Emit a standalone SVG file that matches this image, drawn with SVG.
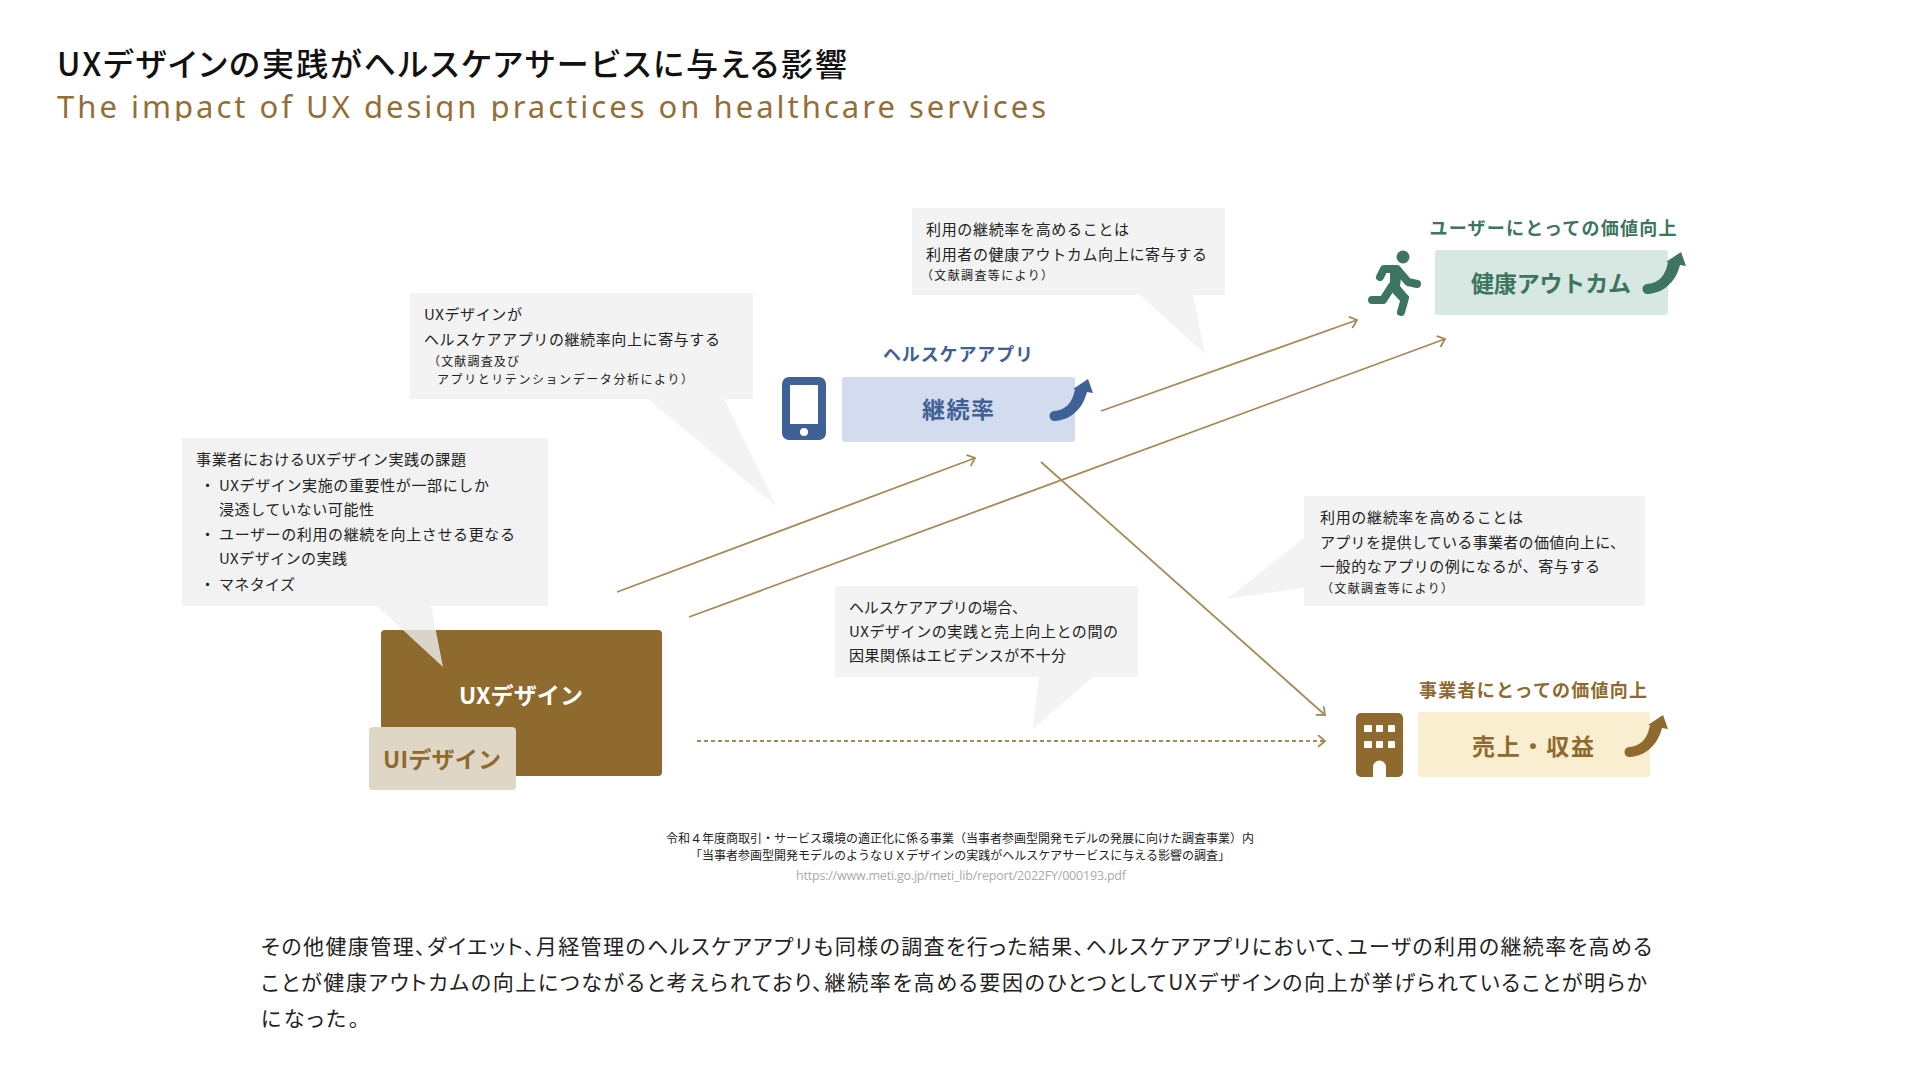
<svg xmlns="http://www.w3.org/2000/svg" width="1920" height="1080" viewBox="0 0 1920 1080">
<style>
text{font-family:"Noto Sans CJK JP","Noto Sans",sans-serif;fill:#222}
.b{font-size:15px}
.s{font-size:12px}
.lab{font-size:18px;font-weight:700}
.big{font-size:23px;font-weight:700}
.blue{fill:#3f6195}.green{fill:#3d7561}.tan{fill:#8e6a2f}
.bub{fill:#f3f3f3}
.m{text-anchor:middle}
.p{font-size:21px;font-feature-settings:"palt"}
.src{font-size:12px;text-anchor:middle}
.ln{fill:none;stroke:#a68a5a;stroke-width:1.800}
</style>
<defs>
<clipPath id="subclip"><rect x="40" y="90" width="1100" height="31"/></clipPath>
<marker id="ah" markerWidth="14" markerHeight="14" refX="10" refY="6" orient="auto" markerUnits="userSpaceOnUse"><path d="M3 0L10 6L3 12" fill="none" stroke="#a68a5a" stroke-width="1.800"/></marker>
<path id="up" d="M-1 -5C9 -6 17 -11 20 -27L18 -27L33 -37L38 -23L32 -24C27 -5 14 4 0 5A5 5 0 0 1 -1 -5Z"/>
</defs>

<g id="title">
<text x="57" y="76" style="font-size:32px;font-weight:500;font-feature-settings:'palt';fill:#111" textLength="790">UXデザインの実践がヘルスケアサービスに与える影響</text>
<text x="57" y="118" clip-path="url(#subclip)" style="font-family:'Noto Sans',sans-serif;font-size:31px;font-weight:400;fill:#936f37" textLength="989">The impact of UX design practices on healthcare services</text>
</g>

<g id="connectors">
<line class="ln" x1="617" y1="592" x2="975" y2="458" marker-end="url(#ah)"/>
<line class="ln" x1="689" y1="617" x2="1445" y2="339" marker-end="url(#ah)"/>
<line class="ln" x1="1101" y1="411" x2="1357" y2="320" marker-end="url(#ah)"/>
<line class="ln" x1="1041" y1="462" x2="1325" y2="715" marker-end="url(#ah)"/>
<line class="ln" x1="697" y1="741" x2="1325" y2="741" stroke-dasharray="4 3" marker-end="url(#ah)"/>
</g>

<g id="node-ux">
<rect x="381" y="630" width="281" height="146" rx="4" fill="#8e6a2f"/>
<text x="521" y="704" class="big m" style="fill:#fff" textLength="124">UXデザイン</text>
<rect x="369" y="727" width="147" height="63" rx="4" fill="#e0d6c5"/>
<text x="442" y="768" class="big m tan" textLength="118">UIデザイン</text>
</g>

<g id="node-app">
<text x="958" y="361" class="lab m blue" textLength="150">ヘルスケアアプリ</text>
<rect x="842" y="377" width="233" height="65" rx="3" fill="#d3dcee"/>
<text x="958" y="418" class="big m blue" textLength="72">継続率</text>
<rect x="782" y="377" width="44" height="63" rx="7" fill="#3f6195"/>
<rect x="790" y="385" width="28" height="39" fill="#fff"/>
<circle cx="804" cy="432" r="4" fill="#fff"/>
<use href="#up" x="1055" y="416" fill="#3f6195"/>
</g>

<g id="node-health">
<text x="1553" y="235" class="lab m green" textLength="247">ユーザーにとっての価値向上</text>
<rect x="1435" y="250" width="233" height="65" rx="3" fill="#d6e8e1"/>
<text x="1551" y="292" class="big m green" textLength="160">健康アウトカム</text>
<circle cx="1403" cy="257" r="6.500" fill="#3d7561"/>
<g fill="none" stroke="#3d7561" stroke-width="8" stroke-linecap="round" stroke-linejoin="round">
<path d="M1380 277L1384 269L1397 269L1408 282L1417 284"/>
<path d="M1405 298L1401 312"/>
<path d="M1372 300L1383 300L1392 286"/>
</g>
<path d="M1390 265L1402 270L1400 286L1409 297L1401 302L1390 290Z" fill="#3d7561"/>
<use href="#up" x="1648" y="289" fill="#3d7561"/>
</g>

<g id="node-revenue">
<text x="1533" y="697" class="lab m tan" textLength="228">事業者にとっての価値向上</text>
<rect x="1418" y="712" width="232" height="65" rx="3" fill="#faeed0"/>
<text x="1533" y="755" class="big m tan" textLength="122">売上・収益</text>
<rect x="1356" y="713" width="47" height="64" rx="5" fill="#8e6a2f"/>
<g fill="#fff">
<rect x="1364" y="725" width="8" height="7" rx="1"/><rect x="1376" y="725" width="7" height="7" rx="1"/><rect x="1388" y="725" width="7" height="7" rx="1"/>
<rect x="1364" y="741" width="8" height="7" rx="1"/><rect x="1376" y="741" width="7" height="7" rx="1"/><rect x="1388" y="741" width="7" height="7" rx="1"/>
<path d="M1373 777V767A6.500 6.500 0 0 1 1386 767V777Z"/>
</g>
<use href="#up" x="1630" y="752" fill="#8e6a2f"/>
</g>

<g id="bubble-issues">
<path d="M182 438H548V606H431L443 667L377 606H182Z" fill="#efefef" fill-opacity=".8"/>
<text x="196" y="465" class="b" textLength="270">事業者におけるUXデザイン実践の課題</text>
<text x="200" y="491" class="b">・</text>
<text x="219" y="491" class="b" textLength="270">UXデザイン実施の重要性が一部にしか</text>
<text x="219" y="515" class="b" textLength="155">浸透していない可能性</text>
<text x="200" y="540" class="b">・</text>
<text x="219" y="540" class="b" textLength="296">ユーザーの利用の継続を向上させる更なる</text>
<text x="219" y="564" class="b" textLength="128">UXデザインの実践</text>
<text x="200" y="590" class="b">・</text>
<text x="219" y="590" class="b" textLength="76">マネタイズ</text>
</g>

<g id="bubble-ux-app">
<path class="bub" d="M410 293H753V399H724L776 506L648 399H410Z"/>
<text x="424" y="320" class="b" textLength="98">UXデザインが</text>
<text x="424" y="345" class="b" textLength="296">ヘルスケアアプリの継続率向上に寄与する</text>
<text x="428" y="366" class="s" textLength="91">（文献調査及び</text>
<text x="437" y="384" class="s" textLength="256">アプリとリテンションデータ分析により）</text>
</g>

<g id="bubble-health">
<path class="bub" d="M912 208H1225V295H1193L1205 354L1140 295H912Z"/>
<text x="926" y="235" class="b" textLength="203">利用の継続率を高めることは</text>
<text x="926" y="260" class="b" textLength="281">利用者の健康アウトカム向上に寄与する</text>
<text x="921" y="280" class="s" textLength="132">（文献調査等により）</text>
</g>

<g id="bubble-value">
<path class="bub" d="M1304 496H1645V606H1304V588L1227 599L1304 538Z"/>
<text x="1320" y="523" class="b" textLength="203">利用の継続率を高めることは</text>
<text x="1320" y="548" class="b" textLength="305">アプリを提供している事業者の価値向上に、</text>
<text x="1320" y="572" class="b" textLength="280">一般的なアプリの例になるが、寄与する</text>
<text x="1321" y="593" class="s" textLength="132">（文献調査等により）</text>
</g>

<g id="bubble-evidence">
<path class="bub" d="M835 586H1138V677H1093L1033 729L1039 677H835Z"/>
<text x="849" y="613" class="b" textLength="178">ヘルスケアアプリの場合、</text>
<text x="849" y="637" class="b" textLength="269">UXデザインの実践と売上向上との間の</text>
<text x="849" y="661" class="b" textLength="217">因果関係はエビデンスが不十分</text>
</g>

<g id="source">
<text x="960" y="843" class="src" textLength="588">令和４年度商取引・サービス環境の適正化に係る事業（当事者参画型開発モデルの発展に向けた調査事業）内</text>
<text x="960" y="860" class="src" textLength="540">「当事者参画型開発モデルのようなＵＸデザインの実践がヘルスケアサービスに与える影響の調査」</text>
<text x="961" y="880" style="font-family:'Open Sans',sans-serif;font-size:12.500px;text-anchor:middle;fill:#aaa" textLength="330">https://www.meti.go.jp/meti_lib/report/2022FY/000193.pdf</text>
</g>

<g id="paragraph">
<text x="261" y="954" class="p" textLength="1391">その他健康管理、ダイエット、月経管理のヘルスケアアプリも同様の調査を行った結果、ヘルスケアアプリにおいて、ユーザの利用の継続率を高める</text>
<text x="261" y="990" class="p" textLength="1386">ことが健康アウトカムの向上につながると考えられており、継続率を高める要因のひとつとしてUXデザインの向上が挙げられていることが明らか</text>
<text x="261" y="1026" class="p" textLength="98">になった。</text>
</g>
</svg>
